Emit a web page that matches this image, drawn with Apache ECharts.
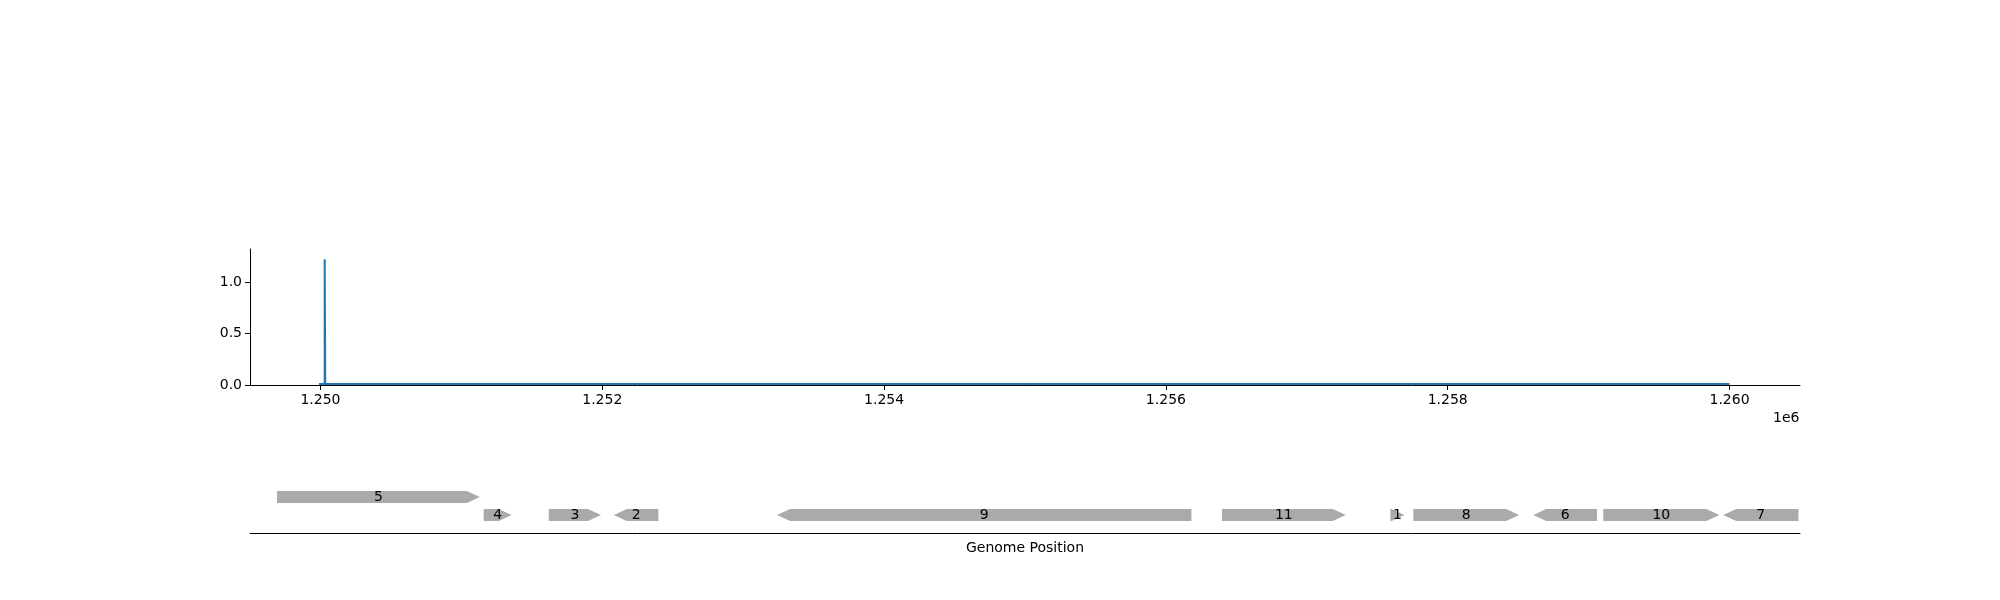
<!DOCTYPE html>
<html style="height: 100%">
<head>
    <meta charset="UTF-8">
    <title>Coverage and genes</title>
    <script src="https://cdn.jsdelivr.net/npm/echarts@6.0.0/dist/echarts.min.js"></script>
    <style>
        body { margin: 0; background: #fff; }
        #chart { width: 2000px; height: 600px; }
    </style>
</head>
<body>
<div id="chart"></div>
<script>
// coverage trace
var positions = [1249990, 1250030, 1250030, 1250034, 1250034, 1260000];
var coverage  = [0.01, 0.01, 1.22, 1.22, 0.01, 0.01];
var xTicks = [1250000, 1252000, 1254000, 1256000, 1258000, 1260000];
var yTicks = [0, 0.5, 1.0];

// genes: label, start, end, strand, row
var geneNames  = ['5', '4', '3', '2', '9', '11', '1', '8', '6', '10', '7'];
var geneStart  = [1249692, 1251158, 1251620, 1252082, 1253240, 1256398, 1257593, 1257756, 1258607, 1259104, 1259955];
var geneEnd    = [1251131, 1251357, 1251991, 1252398, 1256181, 1257276, 1257693, 1258507, 1259059, 1259928, 1260489];
var geneStrand = [1, 1, 1, -1, -1, 1, 1, 1, -1, 1, -1];
var geneRow    = [2, 1, 1, 1, 1, 1, 1, 1, 1, 1, 1];

var XMIN = 1249500, XMAX = 1260500;
var font = 'DejaVu Sans';

var lineData = positions.map(function (p, i) { return [p, coverage[i]]; });
var geneData = geneNames.map(function (n, i) {
    return [geneStart[i], geneEnd[i], geneRow[i], geneStrand[i], n];
});

var chart = echarts.init(document.getElementById('chart'));
chart.setOption({
    animation: false,
    textStyle: { fontFamily: font },
    grid: [
        { left: 250, right: 200, top: 249, bottom: 215 },
        { left: 250, right: 200, top: 470, bottom: 67 }
    ],
    xAxis: [{
        gridIndex: 0, type: 'value', min: XMIN, max: XMAX,
        splitLine: { show: false },
        axisLine: { lineStyle: { color: '#000' } },
        axisTick: { customValues: xTicks, length: 5, lineStyle: { color: '#000' } },
        axisLabel: {
            customValues: xTicks, color: '#000', fontSize: 14, margin: 8,
            formatter: function (v) { return (v / 1e6).toFixed(3); }
        }
    }, {
        gridIndex: 1, type: 'value', min: XMIN, max: XMAX,
        name: 'Genome Position', nameLocation: 'middle', nameGap: 8,
        nameTextStyle: { color: '#000', fontSize: 14, fontFamily: font, verticalAlign: 'top' },
        splitLine: { show: false },
        axisLine: { lineStyle: { color: '#000' } },
        axisTick: { show: false },
        axisLabel: { show: false }
    }],
    yAxis: [{
        gridIndex: 0, type: 'value', min: 0, max: 1.32,
        splitLine: { show: false },
        axisLine: { show: true, lineStyle: { color: '#000' } },
        axisTick: { show: true, customValues: yTicks, length: 5, lineStyle: { color: '#000' } },
        axisLabel: {
            customValues: yTicks, color: '#000', fontSize: 14, margin: 8,
            formatter: function (v) { return v.toFixed(1); }
        }
    }, {
        gridIndex: 1, type: 'value', min: 0, max: 3.5, show: false
    }],
    graphic: [{
        type: 'text', left: 1773, top: 411,
        style: { text: '1e6', fill: '#000', font: '14px "DejaVu Sans"' }
    }],
    series: [{
        type: 'line', xAxisIndex: 0, yAxisIndex: 0, data: lineData,
        symbol: 'none', lineStyle: { color: '#1f77b4', width: 2 }
    }, {
        type: 'custom', xAxisIndex: 1, yAxisIndex: 1, data: geneData,
        renderItem: function (params, api) {
            var s = api.coord([api.value(0), api.value(2)]);
            var e = api.coord([api.value(1), api.value(2)]);
            var strand = api.value(3);
            var h = 12, y0 = s[1] - h / 2, y1 = s[1] + h / 2, yc = s[1];
            var len = e[0] - s[0];
            var head = Math.min(13, len);
            var pts;
            if (strand > 0) {
                pts = [[s[0], y0], [e[0] - head, y0], [e[0], yc], [e[0] - head, y1], [s[0], y1]];
            } else {
                pts = [[s[0] + head, y0], [e[0], y0], [e[0], y1], [s[0] + head, y1], [s[0], yc]];
            }
            return {
                type: 'group',
                children: [{
                    type: 'polygon', shape: { points: pts },
                    style: { fill: '#aaaaaa' }
                }, {
                    type: 'text',
                    style: {
                        text: api.value(4), x: (s[0] + e[0]) / 2, y: yc,
                        align: 'center', verticalAlign: 'middle',
                        fill: '#000', font: '14px "DejaVu Sans"'
                    }
                }]
            };
        }
    }]
});
</script>
</body>
</html>
